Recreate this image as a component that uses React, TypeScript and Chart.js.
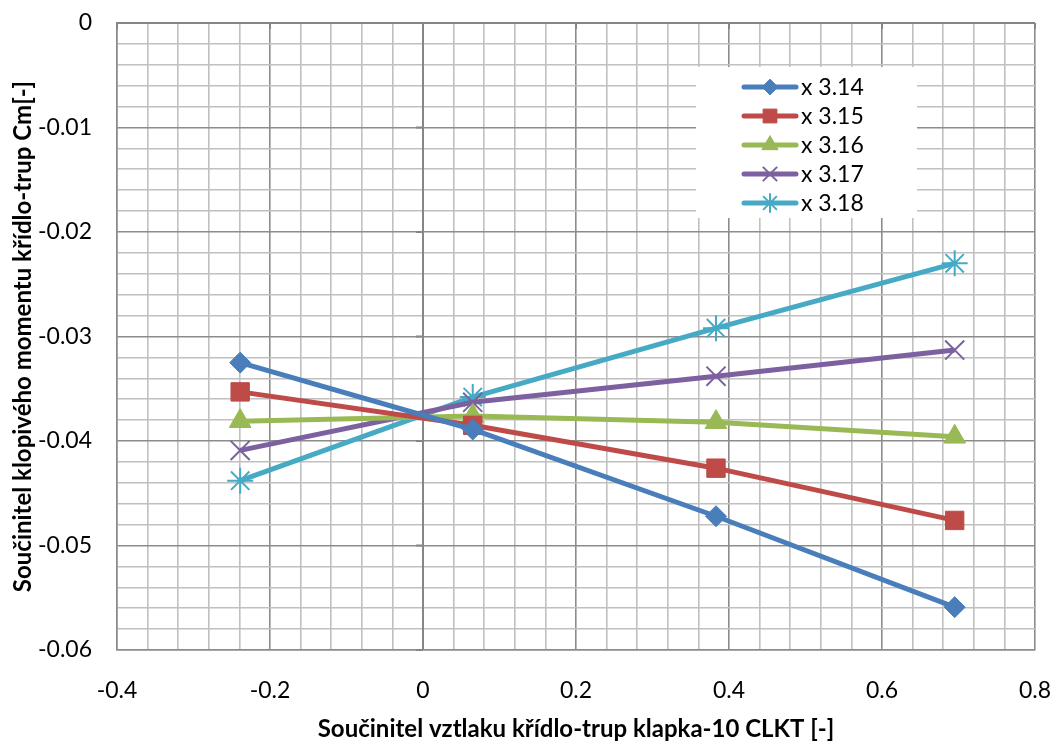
import React, { useEffect, useRef } from "react";
import { Chart, registerables } from "chart.js";
import { drawPoint } from "chart.js/helpers";

Chart.register(...registerables);

const xValues = [-0.239, 0.065, 0.383, 0.695];
const seriesLabels = ["x 3.14", "x 3.15", "x 3.16", "x 3.17", "x 3.18"];
const s314 = [-0.0325, -0.0389, -0.0472, -0.0559];
const s315 = [-0.0353, -0.0385, -0.0426, -0.0476];
const s316 = [-0.0381, -0.0376, -0.0382, -0.0396];
const s317 = [-0.0409, -0.0363, -0.0338, -0.0313];
const s318 = [-0.0438, -0.0358, -0.0292, -0.0230];
const seriesValues = [s314, s315, s316, s317, s318];
const colors = ["#4A7EBB", "#BE4B48", "#98B954", "#7D60A0", "#46AAC5"];
const pointStyles = ["rectRot", "rect", "triangle", "crossRot", "star"];
const pointRadii = [10.5, 13, 12.5, 13.5, 13];
const pointBorders = [1, 1, 1, 2, 2];

const xTitle = "Součinitel vztlaku křídlo-trup klapka-10 CLKT [-]";
const yTitle = "Součinitel klopivého momentu křídlo-trup Cm[-]";
const FONT = "Lato, 'Open Sans', sans-serif";

const isMult = (v: number, step: number) => Math.abs(v / step - Math.round(v / step)) < 1e-6;

export default function App() {
  const ref = useRef<HTMLCanvasElement | null>(null);
  useEffect(() => {
    if (!ref.current) return;
    const axisPlugin = {
      id: "axisPlugin",
      beforeDatasetsDraw(chart: any) {
        const { ctx, chartArea } = chart;
        const xs = chart.scales.x;
        const ys = chart.scales.y;
        const x0 = xs.getPixelForValue(0);
        const y0 = ys.getPixelForValue(0);
        ctx.save();
        ctx.strokeStyle = "#868686";
        ctx.lineWidth = 2;
        ctx.beginPath();
        ctx.moveTo(x0, chartArea.top);
        ctx.lineTo(x0, chartArea.bottom);
        ctx.moveTo(chartArea.left, y0);
        ctx.lineTo(chartArea.right, y0);
        ctx.stroke();
        ctx.beginPath();
        for (let v = -0.4; v <= 0.8001; v += 0.2) {
          const px = xs.getPixelForValue(v);
          ctx.moveTo(px, y0);
          ctx.lineTo(px, y0 + 6);
        }
        for (let v = 0; v >= -0.0601; v -= 0.01) {
          const py = ys.getPixelForValue(v);
          ctx.moveTo(x0, py);
          ctx.lineTo(x0 - 7, py);
        }
        ctx.stroke();
        ctx.restore();
      },
      afterDraw(chart: any) {
        const { ctx } = chart;
        ctx.save();
        ctx.fillStyle = "#ffffff";
        ctx.fillRect(696, 67, 221, 151);
        chart.data.datasets.forEach((ds: any, i: number) => {
          const y = 87 + i * 29;
          ctx.strokeStyle = ds.borderColor;
          ctx.lineWidth = 5;
          ctx.lineCap = "round";
          ctx.beginPath();
          ctx.moveTo(744, y);
          ctx.lineTo(796, y);
          ctx.stroke();
          ctx.fillStyle = ds.borderColor;
          ctx.lineWidth = ds.pointBorderWidth;
          ctx.lineCap = "butt";
          drawPoint(ctx, { pointStyle: ds.pointStyle, radius: ds.pointRadius * 0.75, borderWidth: ds.pointBorderWidth, rotation: 0 }, 770, y);
          ctx.fillStyle = "#000";
          ctx.font = `23px ${FONT}`;
          ctx.textBaseline = "middle";
          ctx.textAlign = "left";
          ctx.fillText(ds.label, 801, y + 1);
        });
        ctx.restore();
      },
    };

    const chart = new Chart(ref.current, {
      type: "line",
      data: {
        datasets: seriesValues.map((vals, i) => ({
          label: seriesLabels[i],
          data: vals.map((v, j) => ({ x: xValues[j], y: v })),
          borderColor: colors[i],
          backgroundColor: colors[i],
          borderWidth: 5,
          pointStyle: pointStyles[i],
          pointRadius: pointRadii[i],
          pointBorderWidth: pointBorders[i],
          pointBackgroundColor: colors[i],
          pointBorderColor: colors[i],
          tension: 0,
        })),
      },
      options: {
        animation: false,
        responsive: false,
        devicePixelRatio: 1,
        layout: { padding: { top: 23, right: 21, left: 0, bottom: 0 } },
        plugins: { legend: { display: false }, tooltip: { enabled: false } },
        scales: {
          x: {
            type: "linear",
            min: -0.4,
            max: 0.8,
            afterFit: (s: any) => {
              s.height = 96;
              s.paddingLeft = 0;
              s.paddingRight = 0;
            },
            ticks: {
              stepSize: 0.04,
              autoSkip: false,
              maxRotation: 0,
              maxTicksLimit: 1000,
              padding: 27,
              color: "#000",
              font: { family: FONT, size: 23 },
              callback: (v: any) => {
                const n = Number(v);
                if (!isMult(n, 0.2)) return "";
                return Math.abs(n) < 1e-9 ? "0" : n.toFixed(1);
              },
            },
            grid: {
              drawTicks: false,
              color: (c: any) => (c.tick && isMult(c.tick.value, 0.2) ? "#8c8c8c" : "#c0c0c0"),
              lineWidth: 1.6,
            },
            border: { display: true, color: "#8c8c8c", width: 1.5 },
            title: {
              display: true,
              text: xTitle,
              color: "#000",
              font: { family: FONT, size: 24, weight: "bold" },
              padding: { top: 0, bottom: 2 },
            },
          },
          y: {
            type: "linear",
            min: -0.06,
            max: 0,
            afterFit: (s: any) => {
              s.width = 117;
              s.paddingTop = 0;
              s.paddingBottom = 0;
            },
            ticks: {
              stepSize: 0.002,
              autoSkip: false,
              maxTicksLimit: 1000,
              padding: 25,
              color: "#000",
              font: { family: FONT, size: 23 },
              callback: (v: any) => {
                const n = Number(v);
                if (!isMult(n, 0.01)) return "";
                return Math.abs(n) < 1e-9 ? "0" : n.toFixed(2);
              },
            },
            grid: {
              drawTicks: false,
              color: (c: any) => (c.tick && isMult(c.tick.value, 0.01) ? "#8c8c8c" : "#c0c0c0"),
              lineWidth: 1.6,
            },
            border: { display: true, color: "#8c8c8c", width: 1.5 },
            title: {
              display: true,
              text: yTitle,
              color: "#000",
              font: { family: FONT, size: 24, weight: "bold" },
              padding: { top: 9, bottom: 0 },
            },
          },
        },
      },
      plugins: [axisPlugin],
    } as any);
    return () => chart.destroy();
  }, []);

  return (
    <div style={{ position: "absolute", left: 0, top: 0, width: 1056, height: 746, background: "#fff" }}>
      <canvas ref={ref} width={1056} height={746} style={{ width: 1056, height: 746 }} />
    </div>
  );
}
